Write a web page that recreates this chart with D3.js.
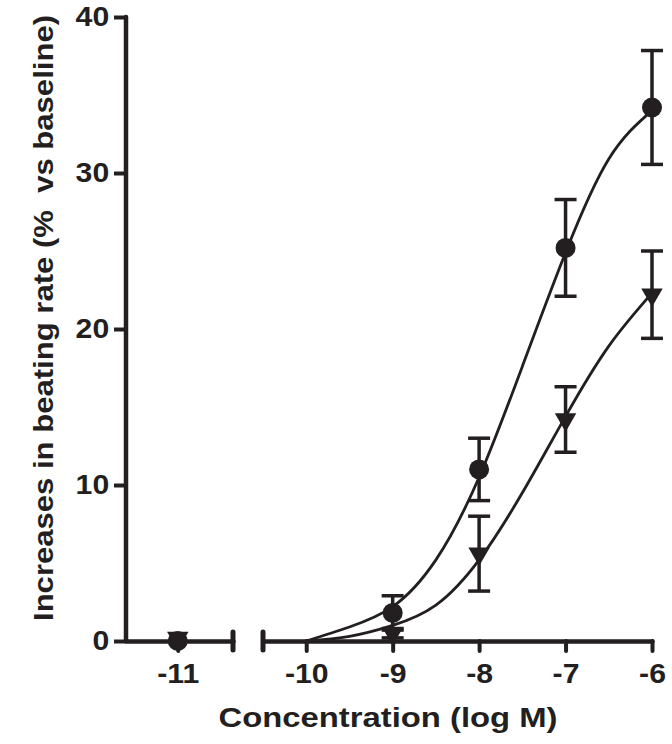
<!DOCTYPE html>
<html>
<head>
<script src="https://d3js.org/d3.v7.min.js"></script>
<style>
  body { margin: 0; background: #fff; }
  svg text { font-family: "Liberation Sans", Arial, Helvetica, sans-serif; font-weight: bold; fill: #231f20; white-space: pre; }
</style>
</head>
<body>
<div id="chart"></div>
<script>
// data
const conc = [-11, -9, -8, -7, -6];
const circleMean = [0, 1.8, 11.0, 25.2, 34.2];
const circleErr = [0, 1.1, 2.0, 3.1, 3.65];
const triMean = [0.2, 0.5, 5.6, 14.2, 22.2];
const triErr = [0, 0.3, 2.4, 2.1, 2.8];

// fitted curves
const curveX = [-10, -9.5, -9, -8.5, -8, -7.5, -7, -6.5, -6];
const circleCurve = [0, 0.9, 2.2, 5.2, 10.5, 17.6, 24.9, 30.9, 34.0];
const triCurve = [0, 0.3, 1.0, 2.3, 5.2, 9.5, 14.4, 18.9, 22.3];

const yTicks = [0, 10, 20, 30, 40];
const xTicksLeft = [-11];
const xTicksRight = [-10, -9, -8, -7, -6];

const width = 672, height = 744;
const ink = "#231f20";

const svg = d3.select("#chart").append("svg")
    .attr("width", width)
    .attr("height", height);

const y = d3.scaleLinear().domain([0, 40]).range([641, 17]);
// broken x axis: two pieces
const xL = d3.scaleLinear().domain([-11.6, -10.36]).range([126, 233]);
const xR = d3.scaleLinear().domain([-10.5, -6]).range([263, 652]);
const xPos = v => v < -10.4 ? xL(v) : xR(v);

// axes
const yAxis = svg.append("g")
    .attr("transform", `translate(${xL.range()[0]},0)`)
    .call(d3.axisLeft(y).tickValues(yTicks).tickSize(12).tickPadding(3).tickSizeOuter(0));

const xAxisL = svg.append("g")
    .attr("transform", `translate(0,${y(0)})`)
    .call(d3.axisBottom(xL).tickValues(xTicksLeft).tickFormat(d => String(d))
        .tickSize(10).tickPadding(13).tickSizeOuter(0));

const xAxisR = svg.append("g")
    .attr("transform", `translate(0,${y(0)})`)
    .call(d3.axisBottom(xR).tickValues(xTicksRight).tickFormat(d => String(d))
        .tickSize(10).tickPadding(13).tickSizeOuter(0));

[yAxis, xAxisL, xAxisR].forEach(g => {
    g.select(".domain").attr("stroke", ink).attr("stroke-width", 4.5).attr("stroke-linecap", "round");
    g.selectAll(".tick line").attr("stroke", ink).attr("stroke-width", 4).attr("stroke-linecap", "round");
    g.selectAll(".tick text").attr("font-size", 27).attr("fill", ink)
        .attr("transform", "scale(1.12,1)")
        .style("font-family", '"Liberation Sans", Arial, sans-serif').style("font-weight", "bold");
});
// extend y axis domain to meet x axis
yAxis.select(".domain").attr("d", `M0,${y(40)}V${y(0)}`);
yAxis.selectAll(".tick line").attr("stroke-linecap", "butt");

// break marks at the ends of the two x pieces
[xL.range()[1], xR.range()[0]].forEach(px => {
    svg.append("line")
        .attr("x1", px).attr("x2", px)
        .attr("y1", y(0) - 9).attr("y2", y(0) + 9)
        .attr("stroke", ink).attr("stroke-width", 5).attr("stroke-linecap", "round");
});

// fitted curves
const line = d3.line()
    .x(d => xR(d[0]))
    .y(d => y(d[1]))
    .curve(d3.curveNatural);

[circleCurve, triCurve].forEach(vals => {
    svg.append("path")
        .datum(curveX.map((c, i) => [c, vals[i]]))
        .attr("d", line)
        .attr("fill", "none")
        .attr("stroke", ink)
        .attr("stroke-width", 2.8);
});

// error bars
function errorBars(means, errs) {
    const g = svg.append("g").attr("stroke", ink).attr("stroke-width", 3.5);
    conc.forEach((c, i) => {
        if (!errs[i]) return;
        const cx = xPos(c);
        const top = y(means[i] + errs[i]), bot = y(means[i] - errs[i]);
        g.append("line").attr("x1", cx).attr("x2", cx).attr("y1", top).attr("y2", bot);
        g.append("line").attr("x1", cx - 11).attr("x2", cx + 11).attr("y1", top).attr("y2", top);
        g.append("line").attr("x1", cx - 11).attr("x2", cx + 11).attr("y1", bot).attr("y2", bot);
    });
}
errorBars(circleMean, circleErr);
errorBars(triMean, triErr);

// markers
svg.append("g").selectAll("circle")
    .data(conc.map((c, i) => [c, circleMean[i]]))
    .join("circle")
    .attr("cx", d => xPos(d[0]))
    .attr("cy", d => y(d[1]))
    .attr("r", 10)
    .attr("fill", ink);

const tri = d3.symbol().type(d3.symbolTriangle).size(200);
svg.append("g").selectAll("path")
    .data(conc.map((c, i) => [c, triMean[i]]))
    .join("path")
    .attr("d", tri)
    .attr("transform", d => `translate(${xPos(d[0])},${y(d[1])}) rotate(180)`)
    .attr("fill", ink);

// axis titles
svg.append("text")
    .attr("x", 388)
    .attr("y", 727)
    .attr("text-anchor", "middle")
    .attr("font-size", 28)
    .attr("textLength", 339)
    .attr("lengthAdjust", "spacingAndGlyphs")
    .text("Concentration (log M)");

svg.append("text")
    .attr("transform", "translate(53,318) rotate(-90)")
    .attr("text-anchor", "middle")
    .attr("font-size", 28)
    .attr("textLength", 606)
    .attr("lengthAdjust", "spacingAndGlyphs")
    .text("Increases in beating rate (%  vs baseline)");
</script>
</body>
</html>
